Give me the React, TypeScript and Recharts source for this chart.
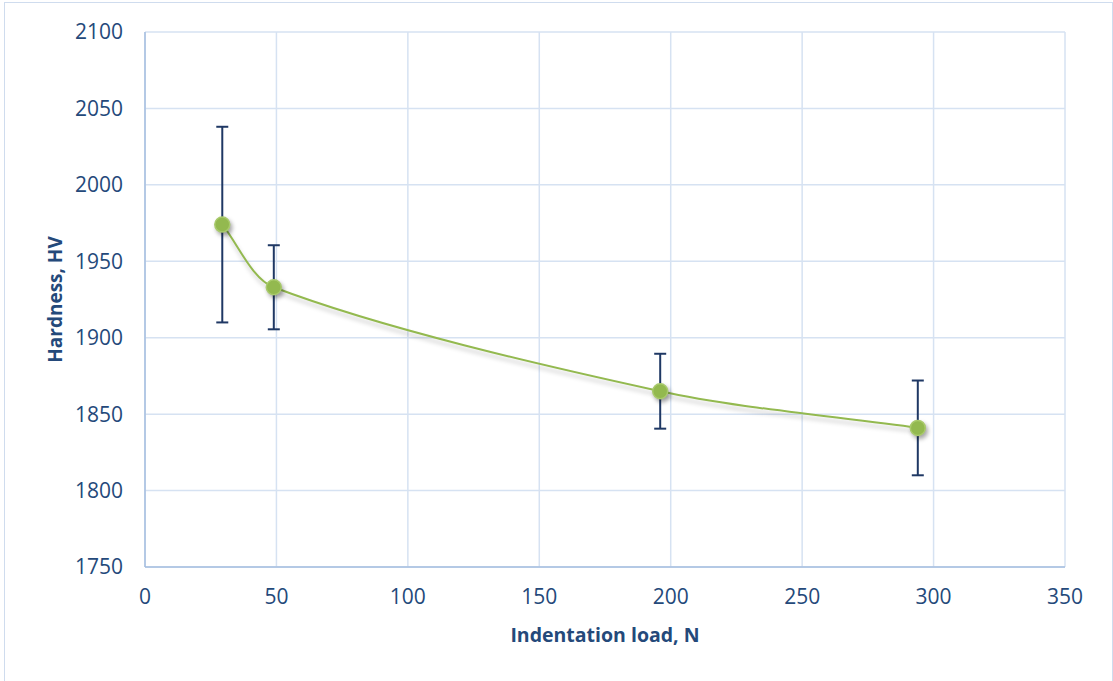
import {
  LineChart,
  Line,
  XAxis,
  YAxis,
  CartesianGrid,
  ErrorBar,
} from "recharts";

const loads = [29.4, 49, 196, 294];
const hardness = [1974, 1933, 1865, 1841];
const errors = [64, 27.5, 24.5, 31];

const xTicks = [0, 50, 100, 150, 200, 250, 300, 350];
const yTicks = [1750, 1800, 1850, 1900, 1950, 2000, 2050, 2100];

const data = loads.map((load, i) => ({
  load,
  hv: hardness[i],
  err: errors[i],
}));

const TEXT = "#24497A";
const GREEN = "#93B94F";
const FONT = "'Open Sans', sans-serif";

// Excel-like smoothed line: cubic bezier, tangent arms scaled by chord lengths
const smoothCurve = (context: any) => {
  let pts: number[][] = [];
  const k = 0.3;
  const dist = (a: number[], b: number[]) => Math.hypot(b[0] - a[0], b[1] - a[1]);
  return {
    areaStart() {},
    areaEnd() {},
    lineStart() {
      pts = [];
    },
    point(x: number, y: number) {
      pts.push([x, y]);
    },
    lineEnd() {
      if (!pts.length) return;
      context.moveTo(pts[0][0], pts[0][1]);
      for (let i = 0; i < pts.length - 1; i++) {
        const p0 = pts[i - 1] || pts[i];
        const p1 = pts[i];
        const p2 = pts[i + 1];
        const p3 = pts[i + 2] || pts[i + 1];
        const d01 = dist(p0, p1);
        const d12 = dist(p1, p2);
        const d23 = dist(p2, p3);
        const f1 = (k * d12) / (d01 + d12 || 1);
        const f2 = (k * d12) / (d12 + d23 || 1);
        context.bezierCurveTo(
          p1[0] + (p2[0] - p0[0]) * f1,
          p1[1] + (p2[1] - p0[1]) * f1,
          p2[0] - (p3[0] - p1[0]) * f2,
          p2[1] - (p3[1] - p1[1]) * f2,
          p2[0],
          p2[1]
        );
      }
    },
  };
};

const GreenDot = (props: any) => {
  const { cx, cy, index } = props;
  if (cx == null || cy == null) return null;
  return (
    <circle
      key={`dot-${index}`}
      cx={cx}
      cy={cy}
      r={7.5}
      fill={GREEN}
      stroke="#A9CA6C"
      strokeWidth={1.5}
      style={{ filter: "drop-shadow(2px 3px 2px rgba(0,0,0,0.35))" }}
    />
  );
};

export default function App() {
  return (
    <div
      style={{
        position: "fixed",
        left: 0,
        top: 0,
        width: 1113,
        height: 681,
        background: "#fff",
        overflow: "hidden",
      }}
    >
      <style>{`.recharts-line-curve { filter: drop-shadow(1px 4px 2px rgba(0,0,0,0.22)); }`}</style>
      <div
        style={{
          position: "absolute",
          left: 4,
          top: 2,
          width: 1107,
          height: 700,
          border: "1px solid #CFDCEE",
        }}
      />
      <div style={{ position: "absolute", left: 0, top: 0 }}>
        <LineChart
          width={1113}
          height={681}
          data={data}
          margin={{ top: 32, right: 48, bottom: 0, left: 0 }}
        >
          <CartesianGrid stroke="#D6E2F2" strokeWidth={1.5} />
          <XAxis
            dataKey="load"
            type="number"
            domain={[0, 350]}
            ticks={xTicks}
            interval={0}
            height={114}
            tickSize={0}
            tickMargin={22}
            axisLine={{ stroke: "#A6BEDF", strokeWidth: 1.5 }}
            tick={{ fill: TEXT, fontSize: 21, fontFamily: FONT }}
            label={{
              content: (p: any) => {
                const vb = p.viewBox;
                return (
                  <text
                    x={vb.x + vb.width / 2}
                    y={vb.y + 75}
                    textAnchor="middle"
                    fill={TEXT}
                    fontSize={19.5}
                    fontWeight="bold"
                    fontFamily={FONT}
                  >
                    Indentation load, N
                  </text>
                );
              },
            }}
          />
          <YAxis
            dataKey="hv"
            type="number"
            domain={[1750, 2100]}
            ticks={yTicks}
            interval={0}
            width={145}
            tickSize={0}
            tickMargin={22}
            axisLine={{ stroke: "#A6BEDF", strokeWidth: 1.5 }}
            tick={{ fill: TEXT, fontSize: 21, fontFamily: FONT }}
            label={{
              content: (p: any) => {
                const vb = p.viewBox;
                const cx = 55;
                const cy = vb.y + vb.height / 2;
                return (
                  <text
                    x={cx}
                    y={cy}
                    transform={`rotate(-90 ${cx} ${cy})`}
                    textAnchor="middle"
                    dominantBaseline="central"
                    fill={TEXT}
                    fontSize={19}
                    fontWeight="bold"
                    fontFamily={FONT}
                  >
                    Hardness, HV
                  </text>
                );
              },
            }}
          />
          <Line
            dataKey="hv"
            type={smoothCurve as any}
            stroke={GREEN}
            strokeWidth={2}
            dot={GreenDot}
            activeDot={false}
            isAnimationActive={false}
          >
            <ErrorBar
              dataKey="err"
              direction="y"
              width={6}
              stroke="#1F3864"
              strokeWidth={2}
              isAnimationActive={false}
            />
          </Line>
        </LineChart>
      </div>
    </div>
  );
}
